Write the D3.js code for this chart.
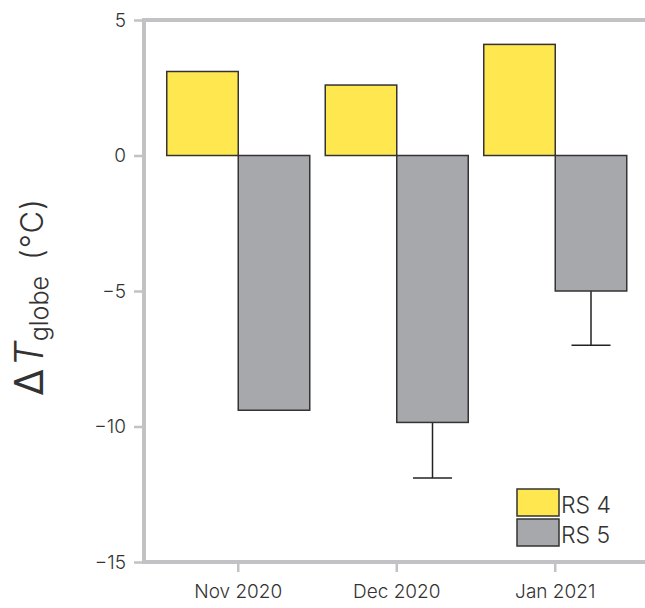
<!DOCTYPE html>
<html>
<head>
<meta charset="utf-8">
<script src="https://cdn.jsdelivr.net/npm/d3@7"></script>
<style>
  body { margin: 0; background: #fff; }
  text { font-family: "Inter", "Open Sans", sans-serif; font-weight: 300; fill: #333; }
</style>
</head>
<body>
<svg id="chart" width="645" height="608"></svg>
<script>
// data
let months = ["Nov 2020", "Dec 2020", "Jan 2021"];
let rs4 = [3.1, 2.6, 4.1];
let rs5 = [-9.4, -9.85, -5.0];
let rs5Err = [null, -11.9, -7.0];
let yTicks = [5, 0, -5, -10, -15];
let seriesNames = ["RS 4", "RS 5"];
let colors = ["#ffe74f", "#a7a8ac"];

let svg = d3.select("#chart");
let width = 645, height = 608;
let plotLeft = 144, plotTop = 20, plotBottom = 562;

let y = d3.scaleLinear().domain([-15, 5]).range([plotBottom, plotTop]);
let x = d3.scaleBand().domain(months).range([159, 634.5]).padding(0);
let barW = 71.5;

// frame lines
let frame = svg.append("g").attr("stroke", "#c2c2c4").attr("stroke-width", 4).attr("fill", "none");
frame.append("line").attr("x1", plotLeft).attr("x2", width).attr("y1", plotTop).attr("y2", plotTop);
frame.append("line").attr("x1", plotLeft).attr("x2", plotLeft).attr("y1", plotTop - 2).attr("y2", plotBottom + 2);
frame.append("line").attr("x1", plotLeft - 2).attr("x2", width).attr("y1", plotBottom).attr("y2", plotBottom);

// y axis
let yAxis = d3.axisLeft(y).tickValues(yTicks).tickSize(8).tickPadding(8).tickFormat(d3.format("d"));
let gy = svg.append("g").attr("transform", `translate(${plotLeft - 2},0)`).call(yAxis);
gy.select(".domain").remove();
gy.selectAll(".tick line").attr("stroke", "#c2c2c4").attr("stroke-width", 2.5);
gy.selectAll(".tick text").style("font-size", "19px").attr("fill", "#333");

// x axis
let xAxis = d3.axisBottom(x).tickSize(9).tickPadding(13);
let gx = svg.append("g").attr("transform", `translate(0,${plotBottom + 1})`).call(xAxis);
gx.select(".domain").remove();
gx.selectAll(".tick line").attr("stroke", "#c2c2c4").attr("stroke-width", 2.5);
gx.selectAll(".tick text").style("font-size", "19px").attr("fill", "#333");

// error bars (drawn under bars)
let gErr = svg.append("g").attr("stroke", "#222").attr("stroke-width", 1.5);
months.forEach((m, i) => {
  if (rs5Err[i] === null) return;
  let cx = x(m) + x.bandwidth() / 2 + barW / 2;
  gErr.append("line").attr("x1", cx).attr("x2", cx).attr("y1", y(rs5[i])).attr("y2", y(rs5Err[i]));
  gErr.append("line").attr("x1", cx - 19.5).attr("x2", cx + 19.5).attr("y1", y(rs5Err[i])).attr("y2", y(rs5Err[i]));
});

// bars
let gBars = svg.append("g").attr("stroke", "#333").attr("stroke-width", 1.5);
gBars.selectAll(".rs4").data(months).join("rect")
  .attr("class", "rs4")
  .attr("x", d => x(d) + x.bandwidth() / 2 - barW)
  .attr("width", barW)
  .attr("y", (d, i) => y(rs4[i]))
  .attr("height", (d, i) => y(0) - y(rs4[i]))
  .attr("fill", colors[0]);
gBars.selectAll(".rs5").data(months).join("rect")
  .attr("class", "rs5")
  .attr("x", d => x(d) + x.bandwidth() / 2)
  .attr("width", barW)
  .attr("y", y(0))
  .attr("height", (d, i) => y(rs5[i]) - y(0))
  .attr("fill", colors[1]);

// legend
let legend = svg.append("g").attr("transform", "translate(517,489)");
seriesNames.forEach((s, i) => {
  legend.append("rect").attr("x", 0).attr("y", i * 30).attr("width", 42).attr("height", 27)
    .attr("fill", colors[i]).attr("stroke", "#333").attr("stroke-width", 1.5);
  legend.append("text").attr("x", 44).attr("y", i * 30 + 24).style("font-size", "23px").text(s);
});

// y label, rotated, starting from the bottom
let ylab = svg.append("text")
  .attr("transform", "translate(43,396) rotate(-90)")
  .attr("text-anchor", "start");
ylab.append("tspan").style("font-size", "40px").style("font-weight", 400).text("Δ");
ylab.append("tspan").style("font-size", "40px").style("font-style", "italic").attr("dx", 2).text("T");
ylab.append("tspan").style("font-size", "25px").attr("dy", 5).text("globe");
ylab.append("tspan").style("font-size", "31px").attr("dy", -5).attr("dx", 16)
  .style("letter-spacing", "1px").text("(°C)");
</script>
</body>
</html>
